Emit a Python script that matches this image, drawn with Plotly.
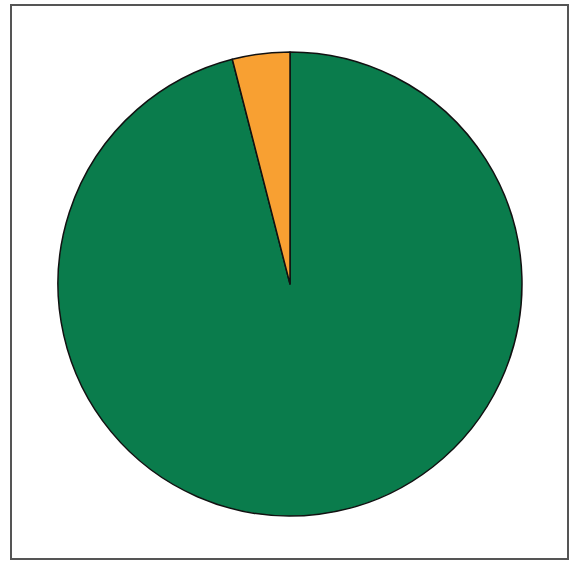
import plotly.graph_objects as go

labels = ["Green share", "Orange share"]
values = [96, 4]
colors = ["#0a7c4c", "#f8a032"]

W, H = 578, 562
cx, cy, r = 290, 284, 232

fig = go.Figure(go.Pie(
    labels=labels,
    values=values,
    sort=False,
    direction="clockwise",
    rotation=0,
    marker=dict(colors=colors, line=dict(color="#111111", width=1.5)),
    textinfo="none",
    hoverinfo="label+percent",
    domain=dict(x=[(cx - r) / W, (cx + r) / W], y=[1 - (cy + r) / H, 1 - (cy - r) / H]),
    showlegend=False,
))

fig.add_shape(type="rect", xref="paper", yref="paper",
              x0=11 / W, x1=568 / W,
              y0=1 - 559 / H, y1=1 - 5 / H,
              line=dict(color="#555555", width=2), fillcolor="rgba(0,0,0,0)")

fig.update_layout(
    width=W, height=H,
    margin=dict(l=0, r=0, t=0, b=0),
    paper_bgcolor="white",
    plot_bgcolor="white",
)

fig.write_html("out.html",
               config={"displayModeBar": False},
               post_script="document.body.style.margin='0';document.body.style.overflow='hidden';")
